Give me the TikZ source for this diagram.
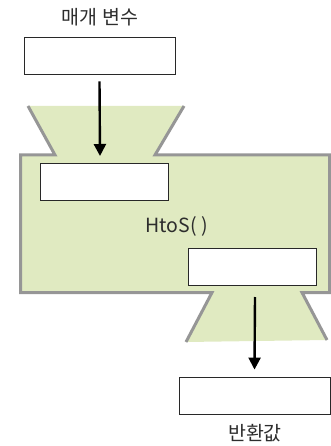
\documentclass[tikz,border=0pt]{standalone}
\usepackage{fontspec}
\setmainfont{Noto Sans CJK KR}
\usetikzlibrary{arrows.meta}
\definecolor{bodyfill}{RGB}{224,234,193}
\definecolor{bodyline}{RGB}{150,150,150}
\definecolor{boxline}{RGB}{40,40,40}
\definecolor{textgray}{RGB}{45,45,45}
\tikzset{
  valbox/.style={draw=boxline, line width=0.9pt, fill=white, minimum width=151pt, minimum height=37pt, inner sep=0pt},
  innerbox/.style={draw=boxline, line width=0.9pt, fill=white, minimum width=128pt, minimum height=37pt, inner sep=0pt},
  flow/.style={line width=2.4pt, -{Triangle[width=12pt,length=12pt]}},
  lbl/.style={font=\fontsize{19.5}{23}\selectfont, text=textgray, inner sep=0pt}
}
\begin{document}
\begin{tikzpicture}[x=1pt,y=-1pt]
\useasboundingbox (0,0) rectangle (330,446);
% function body with the two funnels
\fill[bodyfill] (28,106) -- (184,106) -- (155,155) -- (329.5,155) -- (329.5,292.5) -- (302,292.5)
  -- (327,340) -- (186,342) -- (212,292.5) -- (20.5,292.5) -- (20.5,155) -- (55,155) -- cycle;
\draw[bodyline, line width=3pt, line join=miter]
  (186,342) -- (212,292.5) -- (20.5,292.5) -- (20.5,155) -- (55,155) -- (28,106);
\draw[bodyline, line width=3pt, line join=miter]
  (184,106) -- (155,155) -- (329.5,155) -- (329.5,292.5) -- (302,292.5) -- (327,340);
% boxes
\node[valbox] (param) at (99.5,55.5) {};
\node[innerbox] (pin) at (104,182) {};
\node[innerbox] (pout) at (252,266.5) {};
\node[valbox] (ret) at (254.5,395.5) {};
% labels
\node[lbl] (plabel) at (100,17) {매개 변수};
\node[lbl] (fname) at (177,226) {HtoS(\kern5pt)};
\node[lbl] (rlabel) at (255,433) {반환값};
% arrows
\coordinate (inend) at (100,156);
\coordinate (outstart) at (255,297);
\draw[flow] ([yshift=-7pt]param.south) -- (inend);
\draw[flow] (outstart) -- ([yshift=7pt]ret.north);
\end{tikzpicture}
\end{document}
